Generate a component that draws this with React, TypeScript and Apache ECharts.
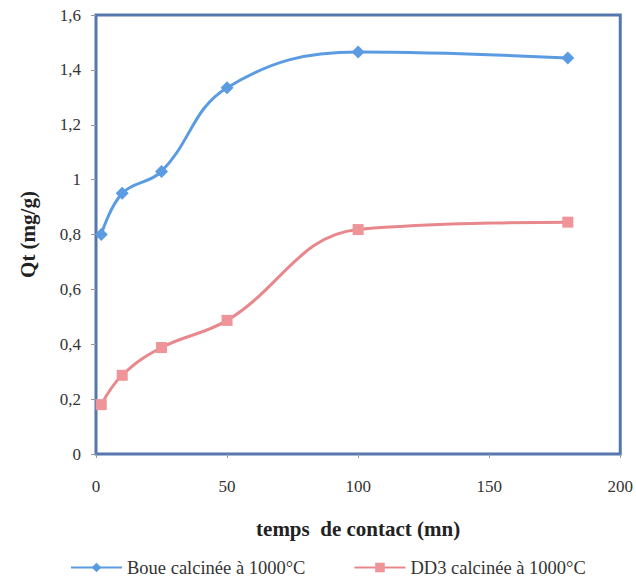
import React, { useEffect, useRef } from "react";
import * as echarts from "echarts";

// Contact time (mn) and adsorbed quantity Qt (mg/g)
const contactTimes = [2, 10, 25, 50, 100, 180];
const boueValues = [0.8, 0.95, 1.03, 1.335, 1.465, 1.443];
const dd3Values = [0.18, 0.287, 0.388, 0.487, 0.818, 0.845];

const seriesNames = ["Boue calcinée à 1000°C", "DD3 calcinée à 1000°C"];
const xAxisTitle = "temps  de contact (mn)";
const yAxisTitle = "Qt (mg/g)";

const BLUE = "#5b9be2";
const RED = "#e8878c";
const FONT = "Liberation Serif";

export default function App() {
  const ref = useRef<HTMLDivElement>(null);

  useEffect(() => {
    if (!ref.current) return;
    const chart = echarts.init(ref.current, undefined, { renderer: "svg" });
    const pairs = (ys: number[]) => contactTimes.map((x, i) => [x, ys[i]]);

    chart.setOption({
      animation: false,
      backgroundColor: "#ffffff",
      textStyle: { fontFamily: FONT },
      grid: {
        left: 96,
        right: 13,
        top: 15,
        bottom: 133,
        show: true,
        borderColor: "#5677ad",
        borderWidth: 3,
        backgroundColor: "transparent",
      },
      xAxis: {
        type: "value",
        min: 0,
        max: 200,
        interval: 50,
        name: xAxisTitle,
        nameLocation: "middle",
        nameGap: 64,
        nameTextStyle: { fontFamily: FONT, fontSize: 21, fontWeight: "bold", color: "#222" },
        axisLine: { show: false },
        axisTick: { show: true, length: 4, lineStyle: { color: "#999" } },
        axisLabel: { fontFamily: FONT, fontSize: 17, color: "#333", margin: 24 },
        splitLine: { show: false },
      },
      yAxis: {
        type: "value",
        min: 0,
        max: 1.6,
        interval: 0.2,
        name: yAxisTitle,
        nameLocation: "middle",
        nameRotate: 90,
        nameGap: 58,
        nameTextStyle: { fontFamily: FONT, fontSize: 21, fontWeight: "bold", color: "#222" },
        axisLine: { show: false },
        axisTick: { show: true, length: 5, lineStyle: { color: "#999" } },
        axisLabel: {
          fontFamily: FONT,
          fontSize: 17,
          color: "#333",
          margin: 15,
          formatter: (v: number) => String(Math.round(v * 10) / 10).replace(".", ","),
        },
        splitLine: { show: false },
      },
      legend: {
        bottom: 5,
        left: 65,
        itemWidth: 51,
        itemHeight: 12,
        itemGap: 48,
        textStyle: { fontFamily: FONT, fontSize: 18.5, color: "#333" },
        data: seriesNames,
      },
      series: [
        {
          name: seriesNames[0],
          type: "line",
          data: pairs(boueValues),
          smooth: 0.4,
          symbol: "diamond",
          symbolSize: 13,
          lineStyle: { color: BLUE, width: 3 },
          itemStyle: { color: BLUE },
        },
        {
          name: seriesNames[1],
          type: "line",
          data: pairs(dd3Values),
          smooth: 0.4,
          symbol: "rect",
          symbolSize: 11,
          lineStyle: { color: RED, width: 3 },
          itemStyle: { color: "#ef9498" },
        },
      ],
    });

    return () => chart.dispose();
  }, []);

  return (
    <div
      ref={ref}
      style={{ position: "absolute", left: 0, top: 0, width: 636, height: 587 }}
    />
  );
}
